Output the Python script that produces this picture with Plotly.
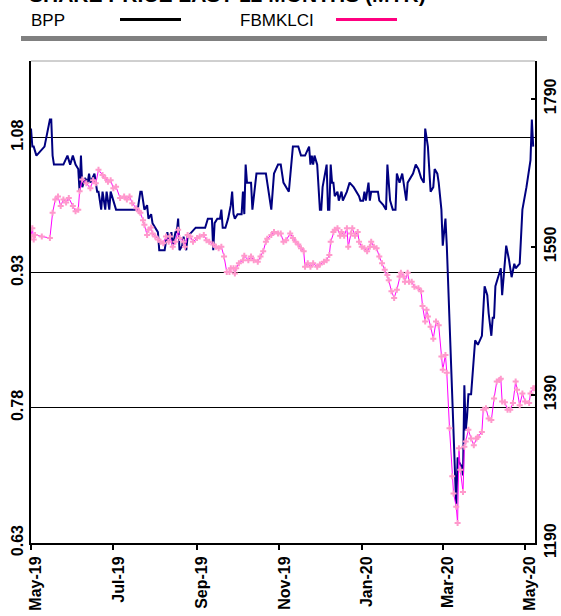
import plotly.graph_objects as go

# ---------------- data ----------------
bpp_dates = [
    "2019-05-01","2019-05-02","2019-05-03","2019-05-05","2019-05-11","2019-05-14","2019-05-15","2019-05-16",
    "2019-05-17","2019-05-18","2019-05-25","2019-05-28","2019-05-30","2019-06-01","2019-06-03","2019-06-05",
    "2019-06-06","2019-06-07","2019-06-08","2019-06-10","2019-06-12","2019-06-13","2019-06-14","2019-06-17",
    "2019-06-19","2019-06-20","2019-06-22","2019-06-23","2019-06-25","2019-06-26","2019-06-28","2019-06-29",
    "2019-07-03","2019-07-16","2019-07-19","2019-07-21","2019-07-22","2019-07-24","2019-07-26","2019-07-27",
    "2019-07-29","2019-07-30","2019-08-01","2019-08-03","2019-08-04","2019-08-08","2019-08-10","2019-08-11",
    "2019-08-13","2019-08-14","2019-08-16","2019-08-17","2019-08-18","2019-08-19","2019-08-21","2019-08-22",
    "2019-08-24","2019-08-25","2019-08-31","2019-09-07","2019-09-09","2019-09-12","2019-09-13","2019-09-14",
    "2019-09-16","2019-09-18","2019-09-19","2019-09-20","2019-09-22","2019-09-24","2019-09-26","2019-09-27",
    "2019-09-28","2019-09-29","2019-10-01","2019-10-04","2019-10-05","2019-10-06","2019-10-07","2019-10-08",
    "2019-10-11","2019-10-12","2019-10-15","2019-10-22","2019-10-26","2019-10-28","2019-10-31","2019-11-02",
    "2019-11-04","2019-11-08","2019-11-11","2019-11-15","2019-11-17","2019-11-20","2019-11-23","2019-11-24",
    "2019-11-25","2019-11-26","2019-11-27","2019-11-28","2019-11-29","2019-12-01","2019-12-02","2019-12-03",
    "2019-12-05","2019-12-06","2019-12-07","2019-12-08","2019-12-09","2019-12-10","2019-12-11","2019-12-12",
    "2019-12-14","2019-12-15","2019-12-17","2019-12-18","2019-12-21","2019-12-23","2019-12-26","2019-12-28",
    "2019-12-30","2019-12-31","2020-01-02","2020-01-03","2020-01-04","2020-01-06","2020-01-07","2020-01-08",
    "2020-01-13","2020-01-14","2020-01-17","2020-01-19","2020-01-20","2020-01-22","2020-01-24","2020-01-26",
    "2020-01-27","2020-01-29","2020-01-31","2020-02-01","2020-02-03","2020-02-04","2020-02-06","2020-02-08",
    "2020-02-10","2020-02-12","2020-02-14","2020-02-16","2020-02-17","2020-02-19","2020-02-21","2020-02-23",
    "2020-02-24","2020-02-26","2020-02-27","2020-02-29","2020-03-01","2020-03-02","2020-03-03","2020-03-04",
    "2020-03-11","2020-03-12","2020-03-13","2020-03-15","2020-03-16","2020-03-17","2020-03-18","2020-03-19",
    "2020-03-20","2020-03-22","2020-03-24","2020-03-25","2020-03-27","2020-03-30","2020-04-01","2020-04-03",
    "2020-04-04","2020-04-06","2020-04-07","2020-04-08","2020-04-09","2020-04-13","2020-04-14","2020-04-17",
    "2020-04-19","2020-04-21","2020-04-23","2020-04-24","2020-04-27","2020-04-29","2020-05-02","2020-05-05",
    "2020-05-06","2020-05-07",
]
bpp_close = [
    1.09,1.07,1.07,1.06,1.07,1.09,1.10,1.10,
    1.06,1.05,1.05,1.06,1.05,1.06,1.05,1.045,
    1.02,1.06,1.025,1.035,1.03,1.04,1.03,1.04,
    1.02,1.02,1.00,1.02,1.00,1.02,1.00,1.02,
    1.00,1.00,1.00,1.02,1.02,1.00,1.005,0.99,
    0.995,0.985,0.98,0.975,0.955,0.955,0.975,0.965,
    0.975,0.96,0.975,0.975,0.99,0.955,0.96,0.97,
    0.955,0.97,0.98,0.98,0.99,0.99,0.955,0.985,
    0.99,0.99,1.00,0.98,0.98,0.99,1.005,1.02,
    0.995,0.99,0.995,0.995,1.02,0.995,1.05,1.03,
    1.03,1.00,1.04,1.04,1.00,1.04,1.05,1.05,
    1.03,1.02,1.07,1.07,1.06,1.06,1.07,1.05,
    1.06,1.05,1.06,1.055,1.05,1.00,1.00,1.025,
    1.04,1.05,1.00,1.00,1.05,1.03,1.03,1.015,
    1.02,1.01,1.02,1.01,1.02,1.03,1.025,1.02,
    1.015,1.01,1.01,1.02,1.01,1.03,1.01,1.02,
    1.02,1.01,1.005,1.00,1.05,1.01,1.00,1.00,
    1.04,1.03,1.04,1.03,1.01,1.03,1.035,1.04,
    1.05,1.045,1.035,1.03,1.09,1.07,1.02,1.025,
    1.045,1.04,1.03,1.00,0.96,0.975,0.99,0.96,
    0.67,0.725,0.72,0.715,0.705,0.805,0.755,0.77,
    0.795,0.795,0.83,0.855,0.85,0.86,0.915,0.905,
    0.885,0.86,0.88,0.88,0.915,0.935,0.905,0.96,
    0.945,0.925,0.94,0.935,0.94,1.00,1.025,1.055,
    1.10,1.07,
]

klci_dates = [
    "2019-05-01","2019-05-02","2019-05-03","2019-05-04","2019-05-09","2019-05-15","2019-05-17","2019-05-19",
    "2019-05-21","2019-05-23","2019-05-25","2019-05-27","2019-05-29","2019-06-01","2019-06-03","2019-06-05",
    "2019-06-06","2019-06-08","2019-06-11","2019-06-14","2019-06-16","2019-06-18","2019-06-20","2019-06-23",
    "2019-06-25","2019-06-27","2019-06-29","2019-07-01","2019-07-03","2019-07-06","2019-07-09","2019-07-11",
    "2019-07-13","2019-07-15","2019-07-18","2019-07-20","2019-07-21","2019-07-23","2019-07-24","2019-07-26",
    "2019-07-27","2019-07-29","2019-07-30","2019-08-01","2019-08-03","2019-08-05","2019-08-07","2019-08-09",
    "2019-08-11","2019-08-12","2019-08-14","2019-08-16","2019-08-18","2019-08-19","2019-08-22","2019-08-23",
    "2019-08-25","2019-08-27","2019-08-29","2019-09-01","2019-09-03","2019-09-06","2019-09-08","2019-09-10",
    "2019-09-13","2019-09-15","2019-09-17","2019-09-19","2019-09-21","2019-09-23","2019-09-25","2019-09-26",
    "2019-09-28","2019-09-29","2019-09-30","2019-10-02","2019-10-05","2019-10-06","2019-10-09","2019-10-11",
    "2019-10-13","2019-10-16","2019-10-18","2019-10-20","2019-10-22","2019-10-23","2019-10-26","2019-10-28",
    "2019-10-31","2019-11-02","2019-11-04","2019-11-06","2019-11-09","2019-11-11","2019-11-13","2019-11-15",
    "2019-11-17","2019-11-19","2019-11-20","2019-11-22","2019-11-24","2019-11-26","2019-11-29","2019-12-01",
    "2019-12-04","2019-12-06","2019-12-08","2019-12-09","2019-12-11","2019-12-12","2019-12-14","2019-12-16",
    "2019-12-17","2019-12-19","2019-12-21","2019-12-22","2019-12-24","2019-12-25","2019-12-27","2019-12-29",
    "2019-12-30","2020-01-01","2020-01-03","2020-01-05","2020-01-07","2020-01-08","2020-01-10","2020-01-12",
    "2020-01-14","2020-01-16","2020-01-18","2020-01-20","2020-01-21","2020-01-23","2020-01-25","2020-01-27",
    "2020-01-29","2020-01-30","2020-02-01","2020-02-02","2020-02-04","2020-02-05","2020-02-07","2020-02-09",
    "2020-02-12","2020-02-14","2020-02-15","2020-02-17","2020-02-18","2020-02-19","2020-02-21","2020-02-23",
    "2020-02-25","2020-02-27","2020-02-29","2020-03-01","2020-03-03","2020-03-04","2020-03-06","2020-03-08",
    "2020-03-09","2020-03-11","2020-03-12","2020-03-13","2020-03-14","2020-03-16","2020-03-17","2020-03-18",
    "2020-03-20","2020-03-22","2020-03-24","2020-03-26","2020-03-27","2020-03-30","2020-03-31","2020-04-02",
    "2020-04-04","2020-04-06","2020-04-08","2020-04-10","2020-04-12","2020-04-13","2020-04-14","2020-04-16",
    "2020-04-18","2020-04-20","2020-04-22","2020-04-24","2020-04-25","2020-04-27","2020-04-29","2020-05-01",
    "2020-05-04","2020-05-05","2020-05-07","2020-05-08",
]
klci_close = [
    1604,1615,1600,1606,1604,1602,1636,1654,
    1658,1645,1654,1650,1656,1645,1638,1640,
    1665,1681,1676,1669,1680,1676,1694,1687,
    1683,1678,1680,1669,1671,1656,1658,1654,
    1658,1649,1642,1638,1636,1626,1620,1606,
    1613,1616,1608,1604,1600,1597,1595,1604,
    1597,1604,1590,1597,1613,1602,1597,1590,
    1606,1604,1597,1602,1604,1606,1599,1597,
    1593,1590,1588,1590,1577,1556,1556,1561,
    1561,1554,1561,1568,1572,1578,1572,1577,
    1572,1570,1577,1584,1597,1601,1606,1610,
    1608,1608,1597,1599,1608,1602,1597,1593,
    1588,1584,1563,1568,1563,1568,1563,1566,
    1570,1572,1579,1597,1610,1613,1615,1605,
    1610,1605,1615,1590,1608,1615,1605,1610,
    1597,1590,1588,1584,1590,1597,1590,1588,
    1577,1568,1559,1552,1545,1530,1521,1532,
    1550,1555,1550,1543,1555,1543,1543,1536,
    1534,1530,1510,1489,1505,1496,1482,1466,
    1489,1484,1442,1424,1444,1420,1345,1280,
    1257,1239,1217,1318,1289,1259,1320,1327,
    1343,1331,1322,1331,1333,1340,1370,1372,
    1358,1356,1385,1408,1410,1412,1381,1380,
    1370,1370,1379,1408,1397,1376,1392,1381,
    1379,1392,1399,1399,
]

left_ticks = [0.63, 0.78, 0.93, 1.08]
right_ticks = [1190, 1390, 1590, 1790]
title_text = "SHARE PRICE LAST 12 MONTHS (MYR)"
series_names = ["BPP", "FBMKLCI"]

# ---------------- figure ----------------
W, H = 561, 616
ML, MR, MT, MB = 31, 26, 61, 73
PW, PH = W - ML - MR, H - MT - MB


def px_x(p):
    return (p - ML) / PW


def px_y(p):
    return (H - MB - p) / PH


tickfont = dict(family="Liberation Sans, Arial, sans-serif", size=16, color="black", weight=700)

fig = go.Figure()
fig.add_trace(go.Scatter(
    x=bpp_dates, y=bpp_close, name=series_names[0], mode="lines",
    line=dict(color="#000080", width=2), yaxis="y",
))
fig.add_trace(go.Scatter(
    x=klci_dates, y=klci_close, name=series_names[1], mode="lines+markers",
    line=dict(color="#FF00FF", width=1),
    marker=dict(symbol="cross", size=5, color="#FF99CC", line=dict(width=0)),
    yaxis="y2",
))

fig.update_layout(
    template="none",
    width=W, height=H,
    margin=dict(l=ML, r=MR, t=MT, b=MB, pad=0),
    paper_bgcolor="white", plot_bgcolor="white",
    showlegend=False,
    xaxis=dict(
        type="date",
        range=["2019-05-01", "2020-05-08 08:00"],
        tick0="2019-05-01", dtick="M2", tickformat="%b-%y",
        tickangle=-90, tickfont=tickfont, ticklabelshift=5,
        ticks="outside", ticklen=5, tickwidth=1.5, tickcolor="black",
        showline=True, linecolor="black", linewidth=2,
        showgrid=False, zeroline=False, automargin=False,
    ),
    yaxis=dict(
        range=[0.63, 1.165],
        tickvals=left_ticks, tickformat=".2f",
        tickangle=-90, tickfont=tickfont, ticks="",
        showline=True, linecolor="black", linewidth=2,
        showgrid=True, gridcolor="black", gridwidth=1,
        zeroline=False, automargin=False,
    ),
    yaxis2=dict(
        overlaying="y", side="right", anchor="x",
        range=[1190, 1841],
        tickvals=right_ticks,
        tickangle=-90, tickfont=tickfont,
        ticks="inside", ticklen=4, tickwidth=1.5, tickcolor="black",
        showline=True, linecolor="black", linewidth=1.5,
        showgrid=False, zeroline=False, automargin=False,
    ),
)

# title (cut off at top of the page, as in the reference)
fig.add_annotation(
    text=title_text, xref="paper", yref="paper",
    x=px_x(27), y=px_y(8), xanchor="left", yanchor="bottom",
    showarrow=False,
    font=dict(family="Liberation Sans, Arial, sans-serif", size=21, color="black", weight=700),
)

# legend row
legend_font = dict(family="Liberation Sans, Arial, sans-serif", size=17, color="black")
fig.add_annotation(text=series_names[0], xref="paper", yref="paper", x=px_x(29), y=px_y(20),
                   xanchor="left", yanchor="middle", showarrow=False, font=legend_font)
fig.add_annotation(text=series_names[1], xref="paper", yref="paper", x=px_x(238), y=px_y(20),
                   xanchor="left", yanchor="middle", showarrow=False, font=legend_font)
fig.add_shape(type="line", xref="paper", yref="paper", x0=px_x(120), x1=px_x(181),
              y0=px_y(19.5), y1=px_y(19.5), line=dict(color="black", width=3))
fig.add_shape(type="line", xref="paper", yref="paper", x0=px_x(336), x1=px_x(397),
              y0=px_y(19.5), y1=px_y(19.5), line=dict(color="#FF0080", width=3))

# grey separator bar
fig.add_shape(type="rect", xref="paper", yref="paper", x0=px_x(21), x1=px_x(547),
              y0=px_y(41), y1=px_y(36), fillcolor="#808080", line=dict(width=0), layer="above")

# thin top border of plot area
fig.add_shape(type="line", xref="paper", yref="paper", x0=0, x1=1, y0=1, y1=1,
              line=dict(color="#A0A0A0", width=1))

fig.write_html(
    "out.html",
    config={"displayModeBar": False},
    post_script="document.body.style.margin='0';document.body.style.overflow='hidden';",
)
